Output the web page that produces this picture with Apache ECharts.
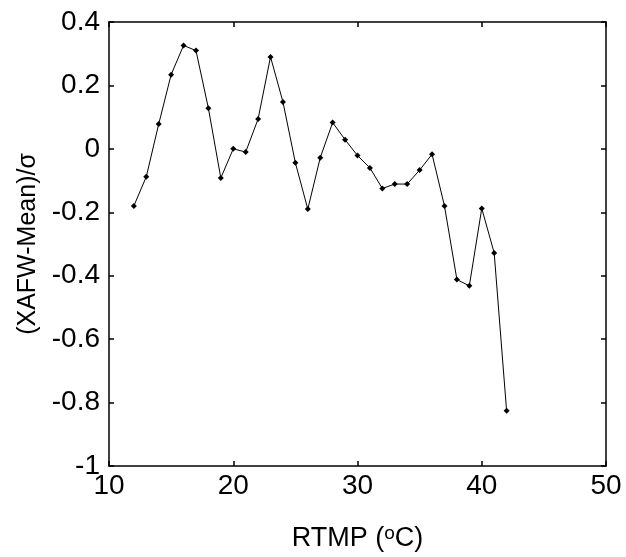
<!DOCTYPE html>
<html>
<head>
<meta charset="utf-8">
<script src="https://cdn.jsdelivr.net/npm/echarts@6/dist/echarts.min.js"></script>
<style>
html,body{margin:0;padding:0;background:#fff;}
#c{width:626px;height:557px;}
</style>
</head>
<body>
<div id="c"></div>
<script>
const rtmp = [12,13,14,15,16,17,18,19,20,21,22,23,24,25,26,27,28,29,30,31,32,33,34,35,36,37,38,39,40,41,42];
const anomaly = [-0.180,-0.088,0.078,0.234,0.326,0.310,0.128,-0.092,0.000,-0.010,0.094,0.290,0.148,-0.044,-0.190,-0.028,0.083,0.029,-0.021,-0.060,-0.125,-0.111,-0.111,-0.067,-0.017,-0.180,-0.412,-0.432,-0.188,-0.328,-0.826];
const xTicks = [10,20,30,40,50];
const yTicks = [-1,-0.8,-0.6,-0.4,-0.2,0,0.2,0.4];
const yTitle = '(XAFW-Mean)/σ';

const FONT = '"Liberation Sans", Arial, sans-serif';
const chart = echarts.init(document.getElementById('c'), null, {renderer:'canvas'});
const axisLine = {show:true, onZero:false, lineStyle:{color:'#000', width:1.5}};
const tick = {show:true, inside:true, length:5, lineStyle:{color:'#000', width:1.5}};
chart.setOption({
  animation:false,
  backgroundColor:'#fff',
  grid:{left:109, top:22, width:497, height:448.5},
  xAxis:[{
    type:'value', min:10, max:50, interval:10, position:'bottom',
    axisLine:axisLine, axisTick:tick, splitLine:{show:false},
    axisLabel:{color:'#000', fontSize:28, fontFamily:FONT, margin:6,
      formatter:v=> xTicks.includes(v) ? String(v) : ''},
    name:'{a|RTMP (}{s|o}{a|C)}', nameLocation:'middle', nameGap:58,
    nameTextStyle:{rich:{a:{fontSize:27, fontFamily:FONT, color:'#000'}, s:{fontSize:19, fontFamily:FONT, color:'#000', verticalAlign:'top', padding:[0,0,10,0]}}}
  },{
    type:'value', min:10, max:50, interval:10, position:'top',
    axisLine:axisLine, axisTick:tick, axisLabel:{show:false}, splitLine:{show:false}
  }],
  yAxis:[{
    type:'value', min:-1, max:0.4, interval:0.2, position:'left',
    axisLine:axisLine, axisTick:tick, splitLine:{show:false},
    axisLabel:{color:'#000', fontSize:28, fontFamily:FONT, margin:9,
      formatter:v=>{ const r=Math.round(v*10)/10; return yTicks.some(t=>Math.abs(t-r)<1e-9) ? (r===0?'0':String(r)) : '';}},
    name:yTitle, nameLocation:'middle', nameGap:61, nameRotate:90,
    nameTextStyle:{fontSize:25, fontFamily:FONT, color:'#000'}
  },{
    type:'value', min:-1, max:0.4, interval:0.2, position:'right',
    axisLine:axisLine, axisTick:tick, axisLabel:{show:false}, splitLine:{show:false}
  }],
  series:[{
    type:'line',
    data: rtmp.map((x,i)=>[x, anomaly[i]]),
    symbol:'diamond', symbolSize:6,
    showSymbol:true,
    lineStyle:{color:'#000', width:1},
    itemStyle:{color:'#000'}
  }]
});
</script>
</body>
</html>
